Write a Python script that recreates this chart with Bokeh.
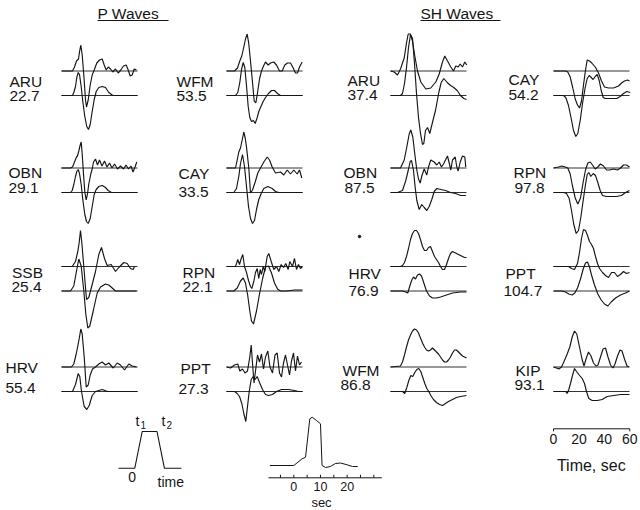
from bokeh.plotting import figure
from bokeh.models import Range1d
from bokeh.embed import file_html
from bokeh.resources import INLINE
from bokeh.core.properties import value

# ---------------- data ----------------
P_STATIONS = ["ARU", "OBN", "SSB", "HRV", "WFM", "CAY", "RPN", "PPT"]
P_DISTANCES = ["22.7", "29.1", "25.4", "55.4", "53.5", "33.5", "22.1", "27.3"]
SH_STATIONS = ["ARU", "OBN", "HRV", "WFM", "CAY", "RPN", "PPT", "KIP"]
SH_DISTANCES = ["37.4", "87.5", "76.9", "86.8", "54.2", "97.8", "104.7", "93.1"]

# waveforms as (time, amplitude) samples; observed (upper) and synthetic (lower)
P_ARU_OBS = [(0,0),(11,0),(13,4),(15,10),(17,12),(18,19),(19.3,26),(20.7,16),(22.3,-4),(24,-29),(25,-36),(26.7,-29),(28.7,-14),(30.7,-4),(32.7,1),(35.3,8),(38,11),(40.7,12),(42.7,6),(44.7,1),(46.7,4),(49,2),(51.3,-1),(54,2),(56.7,-2),(59.3,1),(62,5),(64.7,6),(66.7,1),(68.7,-5),(70.7,-4),(72.7,2),(75,1)]
P_ARU_SYN = [(0,0),(11,0),(12.3,3),(14,9),(15.3,18),(16.7,23),(18,21),(19.7,9),(21.3,-6),(23.3,-21),(25.3,-31),(27,-34),(28.7,-29),(30.7,-16),(32.7,-4),(34.7,4),(37.3,8),(40.7,9),(44,8),(47.3,3),(51.3,0),(76,0)]
P_OBN_OBS = [(0,0),(9,0),(11,1),(13,6),(15,11),(16,12),(17.3,17),(18.7,23),(19.7,26),(20.7,14),(22,-6),(23.3,-24),(24.7,-32),(26,-26),(27.3,-16),(29.3,-6),(30.7,-1),(32,6),(34,9),(36,3),(38,8),(40.5,2),(43,7),(45.5,1),(48,5),(50.5,0),(53,4),(56,-1),(59,2),(62,-1),(64.5,3),(67,-1),(69.5,2),(71.5,-4),(73.5,1),(75.3,6)]
P_OBN_SYN = [(0,0),(9,0),(10.7,2),(12.3,8),(14,16),(15.3,21),(16.7,23),(18,19),(19.7,8),(21.3,-7),(23.3,-22),(25,-29),(26.7,-31),(28.7,-26),(30.7,-14),(32.7,-2),(34.7,3),(37.3,6),(40.7,7),(44,5),(46.7,2),(50,0),(76,0)]
P_SSB_OBS = [(0,0),(10.7,0),(14,5),(16.3,15),(17.7,24),(19,36),(20.3,24),(22.3,0),(25,-33),(27.3,-31),(30.7,-18),(34,-5),(37.3,12),(40,19),(43,8),(45.7,1),(49.7,2),(54,-5),(57.3,-1),(62.3,4),(65.7,3),(69,-2),(71.7,-3),(73,0)]
P_SSB_SYN = [(0,0),(9,0),(12.3,5),(15,20),(17.3,32),(19.7,25),(22.3,0),(24.3,-23),(26.3,-37),(28.3,-35),(31.7,-20),(35.7,-2),(39,4),(44,7),(47.3,6),(50.7,3),(54,0),(75,0)]
P_HRV_OBS = [(0,0),(10,0),(12.3,3),(14.7,13),(16.3,21),(18,30),(19.3,38),(20.7,33),(22.7,10),(24.7,-20),(26.7,-18),(28.7,-8),(31,-2),(34,0),(37.3,3),(40.7,5),(44,2),(47.3,4),(51.7,-1),(55.7,4),(59,2),(63,-3),(67.3,3),(70.7,1),(75,0)]
P_HRV_SYN = [(0,0),(11,0),(14,7),(16.7,18),(18.3,15),(20,0),(22.7,-15),(25.3,-18),(27.7,-14),(30.7,-4),(34,0),(40.7,2),(46,0),(76,0)]
P_WFM_OBS = [(0,0),(8,0),(11,3),(13.3,10),(15.3,15),(17.3,24),(19,32),(20.7,37),(22.3,27),(24,10),(25.7,-8),(27.7,-30),(29.3,-32),(31,-22),(33,-8),(35,0),(37,5),(39,9),(41.7,6),(44,8),(47.3,9),(50,6),(53,0),(55.7,0),(58.3,6),(61,8),(64,8),(66.7,3),(69,-2),(71,-2),(73,4),(75.7,9)]
P_WFM_SYN = [(0,0),(9,0),(11.3,3),(13.3,13),(15,26),(16.7,33),(18.3,28),(20,10),(21.7,-11),(23.3,-22),(25,-26),(27,-25),(28.7,-28),(30.7,-22),(32.3,-16),(34,-12),(36.7,-6),(39,-2),(42,2),(45,5),(48,5),(51,2),(54,0),(76,0)]
P_CAY_OBS = [(0,0),(9,0),(10.7,8),(12.3,16),(14,20),(15.7,28),(17.3,36),(18.7,30),(20,21),(22.3,0),(24,-25),(26,-22),(28.7,-14),(31.3,-5),(34,0),(37.3,6),(40.7,11),(43,8),(45.7,1),(49,-5),(54,-4),(57.3,-7),(60.7,-2),(64,-6),(67.3,-2),(70.7,-6),(73,-2),(75.3,-10)]
P_CAY_SYN = [(0,0),(7.3,0),(10,4),(12.3,16),(14,29),(16,38),(18,26),(20,6),(22,-14),(24,-26),(26,-31),(28,-28),(30,-17),(32.3,-7),(34.7,-1),(37.3,4),(41.3,6),(45.7,4),(49,1),(52.3,0),(76,0)]
P_RPN_OBS = [(0,0),(9,0),(11.3,7),(13,2),(14.7,8),(16.3,12),(18,0),(20,-6),(22,-14),(24,-20),(25.3,-22),(27.3,-15),(29,-6),(30.7,-2),(32.3,-12),(33.7,-3),(35,-8),(36.7,0),(38.3,-5),(40.7,10),(42.3,13),(44.7,5),(47.3,-3),(50,0),(52.3,-5),(54.7,2),(57,-1),(59.3,3),(61.7,-3),(63.3,5),(66,0),(68,8),(70,-3),(72,2),(74,-2),(76,0)]
P_RPN_SYN = [(0,0),(7.3,0),(10.7,3),(14,10),(16.7,13),(19,8),(21.3,-5),(23.3,-20),(25,-30),(27,-33),(30,-20),(33,-3),(36,12),(39,24),(42,25),(45,18),(48,8),(51,2),(54,0),(60,0),(68,1),(76,1)]
P_PPT_OBS = [(0,0),(4,-1),(8,2),(11.3,3),(13.3,-4),(16,-2),(18.5,-6),(21,-4),(23.3,10),(24.7,22),(26,4),(27.5,-16),(29,-4),(31,12),(33,5),(35,13),(37,-2),(39,10),(41.3,16),(43.5,0),(46,-6),(48.5,12),(50.7,14),(53,-6),(55,-10),(57,4),(59,12),(61,2),(63,-8),(65,6),(67,14),(69,-4),(71,11),(73,2),(75,5)]
P_PPT_SYN = [(0,0),(8,0),(10.7,-2),(13,-5),(15.3,-12),(17.3,-22),(19.3,-30),(21,-15),(22.7,0),(24.7,12),(26.7,15),(28.7,12),(30.7,15),(33,9),(36,2),(39,-3),(42,-4),(46,-3),(50,0),(55,2),(62,2),(68,1),(72,0),(76,0)]

SH_ARU_OBS = [(0,0),(3.7,-1),(7,-4),(10,2),(13.7,13),(16,28),(17.7,37),(19.7,37),(22,30),(24.3,15),(27,0),(30.3,-11),(35.3,-18),(40.3,-17),(45.3,-11),(48.7,-3),(52,9),(54.3,15),(57,10),(60.3,4),(63,0),(65.3,5),(67.7,4),(69.7,7),(72,4),(74.3,9),(76.3,6)]
SH_ARU_SYN = [(0,0),(10,0),(12,2),(14,12),(16,28),(18,48),(20,61),(22,57),(24,32),(26,2),(28,-22),(30,-38),(32,-49),(33.3,-48),(35,-35),(37,-32),(39.3,-38),(41.7,-28),(45,-15),(48.3,3),(50.7,13),(53.3,17),(56.7,13),(60,10),(63.3,8),(66.7,5),(70,0),(73.3,-3),(76,-4)]
SH_OBN_OBS = [(0,0),(10,0),(13.7,8),(16.3,21),(18.7,34),(20.3,38),(22.3,31),(24.3,14),(26.3,-2),(28,-11),(29.7,-15),(31.3,-8),(33.7,-1),(36.3,-7),(38,1),(40.3,8),(43.7,6),(46.3,3),(48.7,6),(51,1),(53,4),(55,8),(57,12),(58.7,5),(60.3,-2),(62,8),(64.7,11),(66.3,1),(67.7,-3),(69.7,6),(72,12),(74.3,11),(75.3,1)]
SH_OBN_SYN = [(0,0),(7,0),(12,2),(15.3,12),(17.7,22),(19.7,31),(21,32),(23,22),(24.7,5),(26.3,-8),(28.7,-17),(31.3,-12),(33.7,-15),(36.3,-18),(38.7,-14),(41.3,-7),(43.7,1),(46.3,4),(50.3,3),(55,2),(60,0),(65,-1),(70.3,-3),(75.3,-3)]
SH_HRV_OBS = [(0,0),(10,0),(12,1),(14,4),(16,10),(18,18),(20,27),(22,33),(24,36),(26,36),(28,33),(30,27),(32,20),(34,16),(36,16),(38,19),(40,20),(42,15),(44,10),(46,7),(48,4),(50,0),(52,-3),(54,-3),(56,2),(58,8),(60,13),(62,15),(64,14),(66,13),(68,12),(70,11),(72,10),(74,9),(76,9)]
SH_HRV_SYN = [(0,0),(12,0),(15.3,-1),(17.3,-2),(19.3,5),(21.3,11),(23,14),(25,12),(27,16),(29,17),(31,15),(33,9),(36,0),(39,-5),(42,-7),(46,-7),(50,-6),(56,-4),(62,-2),(70,-1),(76,-1)]
SH_WFM_OBS = [(0,0),(10,1),(12,5),(14,12),(16,20),(18,27),(20,32),(22,36),(24,38),(26,37),(28,34),(30,29),(32,24),(34,20),(36,17),(38,16),(40,17),(42,19),(44,17),(46,15),(48,13),(50,10),(52,7),(54,5),(56,5),(58,7),(60,10),(62,14),(64,17),(66,17),(68,15),(70,13),(72,11),(74,10),(76,9)]
SH_WFM_SYN = [(0,0),(12,0),(14.3,-2),(16.3,4),(18.3,11),(20.3,16),(22.3,15),(24.3,19),(26.3,22),(28.3,23),(30.3,20),(32.3,14),(34.3,8),(36.3,3),(38.3,0),(40.3,-4),(43,-8),(46,-11),(49,-13),(52,-14),(55,-12),(58,-10),(62,-8),(66,-6),(70,-5),(76,-4)]
SH_CAY_OBS = [(0,0),(12,0),(14.3,-1),(16.7,-6),(19.3,-17),(21.7,-28),(24,-34),(26,-37),(28,-30),(30,-14),(32,1),(33.7,11),(36,10),(38.3,8),(41.7,4),(45,-2),(48,-10),(51,-16),(55,-17),(60,-17),(65,-15),(68,-12),(71,-10),(74,-9),(76,-10)]
SH_CAY_SYN = [(0,0),(10,0),(12.3,-2),(15,-10),(17.7,-23),(20,-35),(22.3,-41),(24.3,-38),(26.7,-25),(29,-8),(31.7,8),(33.7,17),(35.7,20),(37.7,18),(39.7,16),(41.7,19),(43.7,21),(45.7,15),(47.7,5),(49.7,-2),(51.7,-3),(58.3,-3),(63.3,-3),(66.7,-1),(70,2),(73.3,4),(76.7,3)]
SH_RPN_OBS = [(0,0),(5,1),(8.3,2),(11.7,1),(14.3,0),(16.7,-6),(19,-18),(21.7,-30),(24.3,-36),(27,-30),(29.7,-14),(32,-2),(34.3,5),(36.7,6),(39,3),(41.7,-1),(44.3,1),(47,4),(50,2),(53,-2),(56,-2),(60,-1),(64,-2),(67,0),(70,3),(73,3),(76,1)]
SH_RPN_SYN = [(0,0),(10,0),(13,-1),(15.7,-6),(18,-18),(20.3,-32),(22.7,-41),(25,-38),(27.3,-25),(29.7,-8),(32,8),(33.7,18),(35.3,20),(37.3,16),(39.7,19),(42,17),(44.3,10),(46.7,2),(49,-3),(53,-4),(58,-4),(63,-4),(68,-3),(72,0),(76,2)]
SH_PPT_OBS = [(0,0),(15,0),(18,-2),(21,-3),(24,3),(26,14),(28,28),(30,37),(32,36),(34,31),(36,25),(38,22),(40,18),(42,10),(44,3),(46,-2),(49,-6),(52,-9),(55,-11),(58,-6),(61,-6),(64,-10),(67,-8),(70,-5),(73,-7),(76,-6)]
SH_PPT_SYN = [(0,0),(8,0),(12,-1),(15.3,-3),(18.7,-4),(21.3,-2),(24,3),(27,12),(29.7,22),(32,28),(34,29),(36,24),(38,16),(41,6),(44.3,-3),(47.7,-9),(51,-13),(54.3,-15),(57.7,-11),(62,-7),(67,-4),(72,-2),(76,0)]
SH_KIP_OBS = [(0,0),(3,-1),(5.3,-2),(8,0),(10.3,5),(13.7,13),(16.3,20),(18.7,30),(21,36),(23.3,33),(26,20),(28.5,8),(30.5,1),(32.5,8),(35,15),(37.5,11),(40,4),(42.5,1),(44.5,2),(47,10),(49.5,18),(52,19),(54.5,10),(57,2),(59.5,-1),(61.5,3),(64,11),(66.5,17),(68.5,16),(71,8),(73.5,1),(75.5,0)]
SH_KIP_SYN = [(0,0),(12,0),(13.7,-2),(15.3,2),(17,8),(18.7,15),(21,23),(23,20),(25.3,17),(28.7,13),(31,8),(33,0),(35.3,-7),(38.7,-9),(43.7,-9),(48.7,-8),(53.7,-5),(60.3,-4),(67,-3),(76,-3)]

# source time function (sec, amplitude) and its axis
STF_T = [-9, 0, 3.1, 4.4, 6, 6.9, 8.5, 10, 10.6, 11.9, 13.75, 15.6, 17.5, 20, 22, 24]
STF_A = [0, 0, 6.7, 8.3, 46.7, 48.3, 45, 41.7, 0, -2, -1, 2, 2.5, 0.7, -1, -1]
STF_TICKS = [-5, 0, 5, 10, 15, 20, 25, 30]
STF_LABELS = [0, 10, 20]
# schematic trapezoid (time units, relative amplitude)
TRAP_T = [-2.2, 0, 1, 3, 4, 6.3]
TRAP_A = [0, 0, 1, 1, 0, 0]
# SH time scale bar
BAR_TICKS = [0, 20, 40, 60]

P_OBS = [P_ARU_OBS, P_OBN_OBS, P_SSB_OBS, P_HRV_OBS, P_WFM_OBS, P_CAY_OBS, P_RPN_OBS, P_PPT_OBS]
P_SYN = [P_ARU_SYN, P_OBN_SYN, P_SSB_SYN, P_HRV_SYN, P_WFM_SYN, P_CAY_SYN, P_RPN_SYN, P_PPT_SYN]
SH_OBS = [SH_ARU_OBS, SH_OBN_OBS, SH_HRV_OBS, SH_WFM_OBS, SH_CAY_OBS, SH_RPN_OBS, SH_PPT_OBS, SH_KIP_OBS]
SH_SYN = [SH_ARU_SYN, SH_OBN_SYN, SH_HRV_SYN, SH_WFM_SYN, SH_CAY_SYN, SH_RPN_SYN, SH_PPT_SYN, SH_KIP_SYN]

# ---------------- layout ----------------
COL_X0 = [61, 226, 390, 553]
TRACE_LEN = 76
ROW_OBS_Y = [70.5, 167.5, 266, 366.5]
SYN_GAP = 24.5
NAME_X = [9, 8, 11.5, 5, 176, 178, 182, 180, 347, 343, 348, 342, 508, 513, 505, 515]
NUM_X = [9, 8, 11, 5, 176, 178, 182, 178, 347, 344, 348, 340, 508, 514, 503, 514]
NAME_Y = [86, 177, 277, 372, 86, 178, 277, 373, 84.5, 176.5, 278, 375, 84, 176.5, 278, 375]
NUM_Y = [100, 192, 291, 392, 100, 196, 291, 393, 99, 192, 295, 389, 99, 192, 295, 389]
TXT_DY = 5.0   # renderer places alphabetic baseline ~5px low

FONT = value("Liberation Sans")
INK = "#151515"

p = figure(width=640, height=510, x_range=Range1d(0, 640), y_range=Range1d(510, 0),
           output_backend="svg", toolbar_location=None, min_border=0,
           x_axis_location=None, y_axis_location=None)
p.grid.visible = False
p.outline_line_color = None
p.background_fill_color = "white"
p.border_fill_color = "white"


def label(xs, ys, texts, size, align="left", dy=TXT_DY):
    p.text(xs, [y - dy for y in ys], text=texts, text_font=FONT, text_font_size=size,
           text_baseline="alphabetic", text_align=align, text_color=INK)


names = P_STATIONS + SH_STATIONS
dists = P_DISTANCES + SH_DISTANCES
obs_all = P_OBS + SH_OBS
syn_all = P_SYN + SH_SYN

base_xs, base_ys, tr_xs, tr_ys = [], [], [], []
for i in range(16):
    col, row = i // 4, i % 4
    x0 = COL_X0[col]
    yo = ROW_OBS_Y[row]
    ys = yo + SYN_GAP
    for yb in (yo, ys):
        base_xs.append([x0, x0 + TRACE_LEN])
        base_ys.append([yb, yb])
    for trace, yb in ((obs_all[i], yo), (syn_all[i], ys)):
        tr_xs.append([x0 + t for t, a in trace])
        tr_ys.append([yb - a for t, a in trace])

p.multi_line(base_xs, base_ys, line_color="#333333", line_width=1.0)
p.multi_line(tr_xs, tr_ys, line_color=INK, line_width=1.15)

label(NAME_X, NAME_Y, names, "15.5px")
label(NUM_X, NUM_Y, dists, "15.5px")

# titles with underline
label([97, 420], [18, 18], ["P  Waves", "SH Waves"], "15.5px")
p.segment([97, 420], [20, 20], [168, 500], [20, 20], line_color=INK, line_width=1)

# stray speck
p.scatter([359], [236], size=2.5, color=INK)

# trapezoid source schematic
TX0, TSC, TY0, TH = 134.3, 7.4, 467.7, 36.7
p.line([TX0 + TSC * t for t in TRAP_T], [TY0 - TH * a for a in TRAP_A], line_color=INK, line_width=1.1)
label([135, 161], [425, 425], ["t", "t"], "14px")
label([140, 166], [428, 428], ["1", "2"], "10px", dy=3.5)
label([131.7], [481.5], ["0"], "14px", align="center")
label([157], [486.5], ["time"], "14px")

# source time function with axis
SX0, SSC, SY0, SAX = 293.3, 2.667, 465.0, 477.3
p.line([SX0 + SSC * t for t in STF_T], [SY0 - a for a in STF_A], line_color=INK, line_width=1.0)
p.segment([SX0 + SSC * -9.5], [SAX], [SX0 + SSC * 33], [SAX], line_color=INK, line_width=1)
p.segment([SX0 + SSC * t for t in STF_TICKS], [SAX] * len(STF_TICKS),
          [SX0 + SSC * t for t in STF_TICKS], [SAX - 3] * len(STF_TICKS), line_color=INK, line_width=1)
label([SX0 + SSC * t for t in STF_LABELS], [490] * 3, [str(t) for t in STF_LABELS], "12.5px", align="center", dy=4.2)
label([321], [506], ["sec"], "13px", align="center", dy=4.3)

# SH time bar
BX0, BSC, BY = 553.0, 76.3 / 60, 428.3
p.segment([BX0], [BY], [BX0 + BSC * 60], [BY], line_color=INK, line_width=1)
p.segment([BX0 + BSC * t for t in (0, 60)], [BY] * 2, [BX0 + BSC * t for t in (0, 60)], [BY + 2.5] * 2,
          line_color=INK, line_width=1)
label([BX0 + BSC * t for t in BAR_TICKS], [443.5] * 4, [str(t) for t in BAR_TICKS], "14px", align="center")
label([593], [470], ["Time,  sec"], "16px", align="center")

open("out.html", "w").write(file_html(p, INLINE))
